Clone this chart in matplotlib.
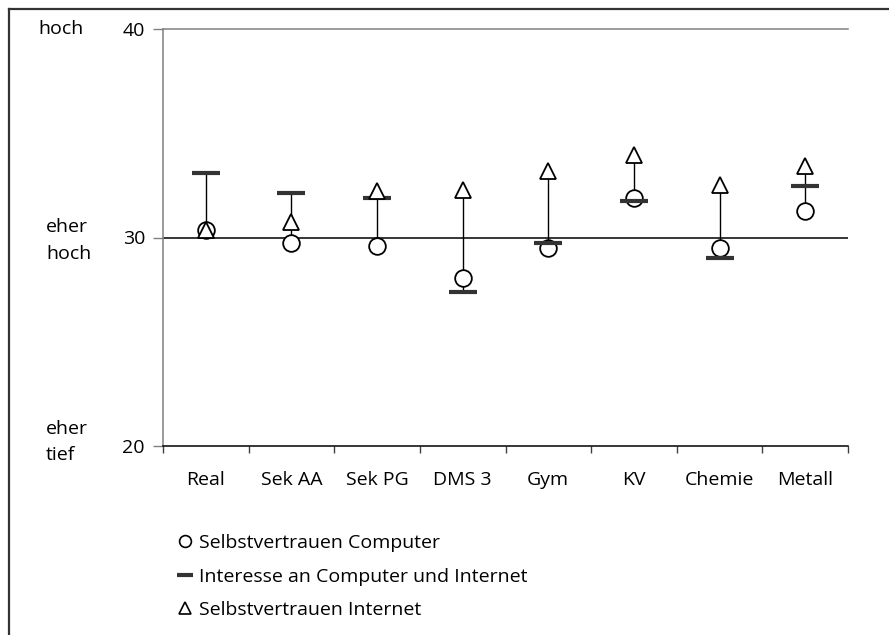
import numpy as np
import matplotlib.pyplot as plt
from matplotlib.lines import Line2D
from matplotlib.transforms import blended_transform_factory

plt.rcParams['font.family'] = ['Open Sans', 'DejaVu Sans']

# Data
categories = ['Real', 'Sek AA', 'Sek PG', 'DMS 3', 'Gym', 'KV', 'Chemie', 'Metall']
selbst_computer = [30.38, 29.73, 29.59, 28.05, 29.48, 31.90, 29.49, 31.25]
interesse = [33.10, 32.14, 31.90, 27.37, 29.75, 31.75, 29.01, 32.46]
selbst_internet = [30.35, 30.76, 32.22, 32.28, 33.17, 33.98, 32.51, 33.42]
y_ticks = [20, 30, 40]

fs = 14
fig = plt.figure(figsize=(8.89, 6.35), dpi=100)
ax = fig.add_axes([163 / 889, 1 - 446 / 635, 685 / 889, 417 / 635])

x = np.arange(len(categories))
lo = np.minimum.reduce([selbst_computer, interesse, selbst_internet])
hi = np.maximum.reduce([selbst_computer, interesse, selbst_internet])

# high-low lines
ax.vlines(x, lo, hi, color='black', lw=1.0, zorder=2)
ax.axhline(30, color='black', lw=1.1, zorder=1)

ax.plot(x, selbst_computer, 'o', ms=12, mfc='white', mec='black', mew=1.3,
        ls='none', zorder=3)
ax.plot(x, interesse, '_', ms=19.5, mec='#333333', mew=3.0, ls='none', zorder=4)
ax.plot(x, selbst_internet, '^', ms=12, mfc='white', mec='black', mew=1.3,
        ls='none', zorder=5)

# axes
ax.set_xlim(-0.5, len(categories) - 0.5)
ax.set_ylim(20, 40)
ax.set_yticks(y_ticks)
ax.set_yticklabels([str(v) for v in y_ticks], fontsize=fs)
ax.tick_params(axis='y', length=7, width=1, color='#808080', pad=6)
ax.set_xticks(x)
ax.set_xticklabels(categories, fontsize=fs)
ax.tick_params(axis='x', which='major', length=0, pad=18)
ax.set_xticks(np.arange(len(categories) + 1) - 0.5, minor=True)
ax.tick_params(axis='x', which='minor', length=5, width=1, color='#404040')
ax.spines['right'].set_visible(False)
ax.spines['top'].set_color('#808080')
ax.spines['left'].set_color('#808080')
ax.spines['bottom'].set_color('black')
for s in ['top', 'left', 'bottom']:
    ax.spines[s].set_linewidth(1.1)

# verbal scale labels on the left
tr = blended_transform_factory(fig.transFigure, ax.transData)
ax.text(38 / 889, 40, 'hoch', transform=tr, fontsize=fs, ha='left', va='center')
ax.text(46 / 889, 29.85, 'eher\nhoch', transform=tr, fontsize=fs, ha='left', va='center',
        linespacing=1.6)
ax.text(46 / 889, 20.2, 'eher\ntief', transform=tr, fontsize=fs, ha='left', va='center',
        linespacing=1.6)

# legend
handles = [
    Line2D([], [], marker='o', ms=8.5, mfc='white', mec='black', mew=1.2, ls='none'),
    Line2D([], [], marker='_', ms=12, mec='#333333', mew=3.0, ls='none'),
    Line2D([], [], marker='^', ms=9, mfc='white', mec='black', mew=1.2, ls='none'),
]
labels = ['Selbstvertrauen Computer', 'Interesse an Computer und Internet',
          'Selbstvertrauen Internet']
fig.legend(handles, labels, loc='upper left', bbox_to_anchor=(177 / 889, 1 - 534 / 635),
           frameon=False, fontsize=fs, handlelength=0.8, handletextpad=0.35,
           labelspacing=0.8, borderpad=0, borderaxespad=0)

# outer frame (left and top edges)
fig.add_artist(Line2D([9 / 889, 9 / 889], [0, 1 - 9 / 635], transform=fig.transFigure,
                      color='#333333', lw=1.6))
fig.add_artist(Line2D([9 / 889, 1], [1 - 9 / 635, 1 - 9 / 635], transform=fig.transFigure,
                      color='#333333', lw=1.6))

plt.savefig('out.png', dpi=100)
